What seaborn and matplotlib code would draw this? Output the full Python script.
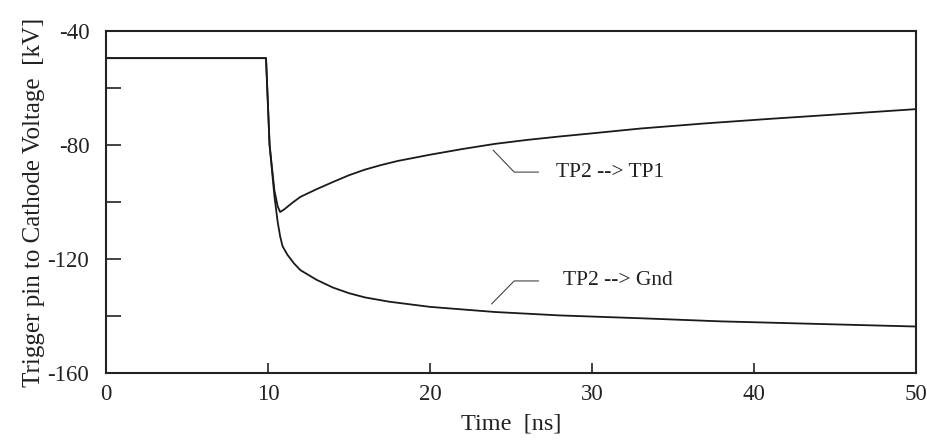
import pandas as pd
import seaborn as sns
import matplotlib.pyplot as plt

# TP2 --> TP1 trace (time in ns, voltage in kV)
t_tp1 = [0, 9.88, 10.1, 10.4, 10.6, 10.75, 11.0, 11.5, 12.0, 13.0, 14.0, 15.0, 16.0,
         17.0, 18.0, 19.0, 20.0, 22.0, 24.0, 26.0, 28.0, 30.0, 33.0, 37.0, 41.0, 45.0,
         50.0]
v_tp1 = [-49.5, -49.5, -80, -96, -101.5, -103.5, -102.6, -100.3, -98.2, -95.5, -93.0,
         -90.6, -88.6, -87.0, -85.6, -84.5, -83.4, -81.4, -79.6, -78.2, -77.0, -75.9,
         -74.2, -72.4, -70.8, -69.3, -67.4]

# TP2 --> Gnd trace
t_gnd = [0, 9.88, 10.1, 10.4, 10.6, 10.75, 10.9, 11.2, 11.6, 12.0, 13.0, 14.0, 15.0,
         16.0, 17.5, 20.0, 24.0, 28.0, 33.0, 38.0, 42.0, 46.0, 50.0]
v_gnd = [-49.5, -49.5, -80, -98, -107, -112, -115.5, -118.5, -121.5, -123.9, -127.3,
         -130.0, -132.0, -133.5, -135.0, -136.8, -138.6, -139.8, -140.8, -141.9, -142.5,
         -143.1, -143.7]

x_ticks = [0, 10, 20, 30, 40, 50]
y_ticks = [-160, -140, -120, -100, -80, -60, -40]
y_tick_labels = ['-160', '', '-120', '', '-80', '', '-40']

if __name__ == '__main__':
    df_tp1 = pd.DataFrame({'time': t_tp1, 'voltage': v_tp1})
    df_tp1['trace'] = 'TP2 --> TP1'
    df_gnd = pd.DataFrame({'time': t_gnd, 'voltage': v_gnd})
    df_gnd['trace'] = 'TP2 --> Gnd'
    df = pd.concat([df_tp1, df_gnd], ignore_index=True)

    sns.set_style('ticks')
    plt.rcParams['font.family'] = ['Liberation Serif', 'DejaVu Serif']

    fig = plt.figure(figsize=(9.27, 4.44), dpi=100)
    ax = fig.add_axes([0.1143, 0.16, 0.8738, 0.77])

    sns.lineplot(data=df, x='time', y='voltage', units='trace', estimator=None,
                 sort=False, color='#1a1a1a', linewidth=1.3, legend=False, ax=ax)

    # leader lines for the curve labels
    ax.plot([23.9, 25.2, 26.7], [-81.8, -89.5, -89.5], color='#444444', lw=0.8)
    ax.text(27.8, -89.5, 'TP2 --> TP1', fontsize=15.5, va='center', color='#222222')
    ax.plot([23.8, 25.2, 26.7], [-135.8, -127.7, -127.7], color='#444444', lw=0.8)
    ax.text(28.2, -127.7, 'TP2 --> Gnd', fontsize=15.5, va='center', color='#222222')

    ax.set_xlim(0, 50)
    ax.set_ylim(-160, -40)
    ax.set_xticks(x_ticks)
    ax.set_yticks(y_ticks)
    ax.set_yticklabels(y_tick_labels)
    ax.tick_params(axis='both', direction='in', labelsize=16.5, width=1.2, colors='#222222')
    ax.tick_params(axis='y', length=11, pad=12)
    ax.tick_params(axis='x', length=7, pad=8)
    for s in ax.spines.values():
        s.set_visible(True)
        s.set_linewidth(1.5)
        s.set_color('#222222')

    ax.set_xlabel('Time  [ns]', fontsize=17.5, color='#222222', labelpad=6)
    ax.set_ylabel('Trigger pin to Cathode Voltage  [kV]', fontsize=18, color='#222222',
                  labelpad=2)

    fig.savefig('out.png', dpi=100, facecolor='white')
